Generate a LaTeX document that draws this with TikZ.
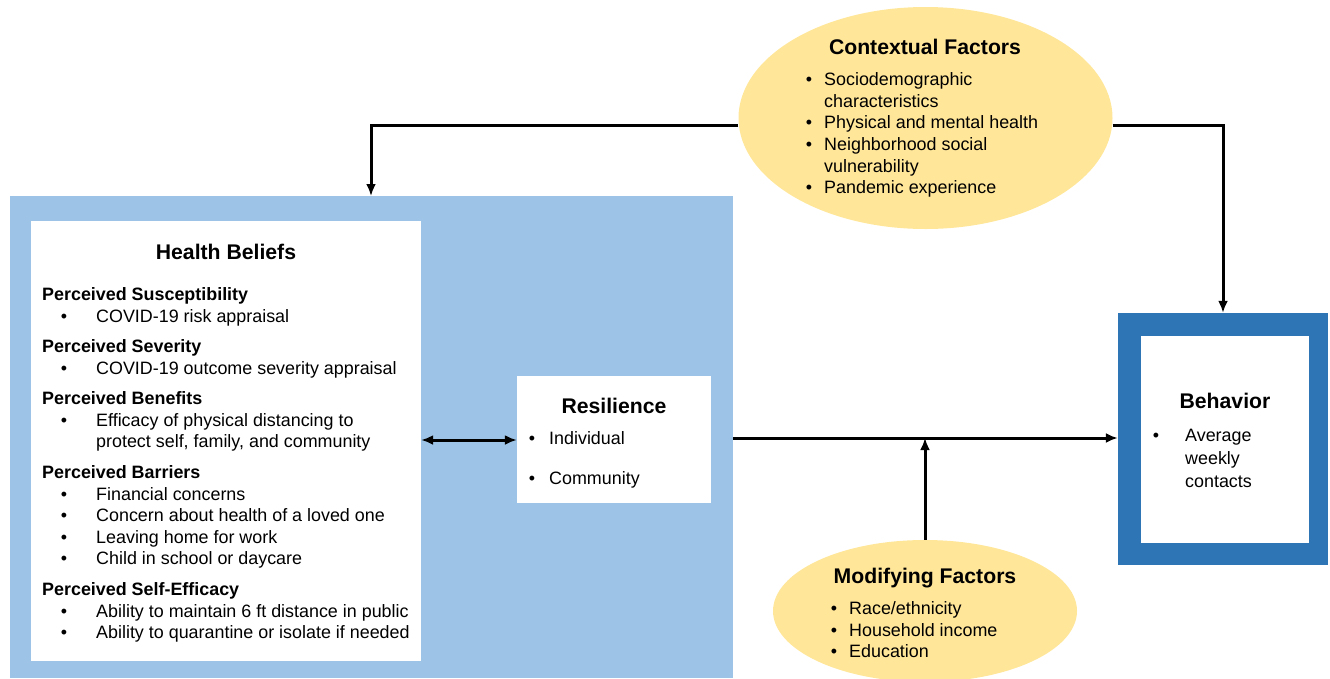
\documentclass[tikz,border=0pt]{standalone}
\usepackage{fontspec}
\setmainfont{Liberation Sans}
\usetikzlibrary{arrows.meta,shapes.geometric}
\definecolor{lightblue}{HTML}{9DC3E6}
\definecolor{darkblue}{HTML}{2E75B6}
\definecolor{ellyellow}{HTML}{FFE699}
\tikzset{
  txt/.style={anchor=base west,inner sep=0pt,font=\fontsize{17.9}{21}\selectfont},
  head/.style={anchor=base west,inner sep=0pt,font=\fontsize{17.9}{21}\selectfont\bfseries},
  ttl/.style={anchor=base,inner sep=0pt,font=\fontsize{21.2}{25}\selectfont\bfseries},
  bul/.style={anchor=base,inner sep=0pt,font=\fontsize{17.9}{21}\selectfont},
  tip/.tip={Latex[length=12pt,width=10pt]},
  conn/.style={line width=3pt,-tip},
  wbox/.style={fill=white,draw=none,inner sep=0pt},
  ell/.style={ellipse,fill=ellyellow,draw=none,inner sep=0pt}
}
\begin{document}
\begin{tikzpicture}[x=1pt,y=-1pt]
\useasboundingbox (0,0) rectangle (1330,678);
% big blue area
\fill[lightblue] (10,196) rectangle (733,678);
\node[wbox,minimum width=390pt,minimum height=440pt] (hb) at (226,441) {};
\node[wbox,minimum width=194pt,minimum height=127pt] (res) at (614,439.5) {};
% behavior
\node[fill=darkblue,minimum width=210pt,minimum height=252pt,inner sep=0pt] (beh) at (1223,439) {};
\node[wbox,minimum width=168pt,minimum height=207pt] (behin) at (1225,439.5) {};
% ellipses
\node[ell,minimum width=374pt,minimum height=222pt] (ctx) at (925.5,118) {};
\node[ell,minimum width=304pt,minimum height=142pt] (mod) at (925,611) {};

% Health beliefs text
\node[ttl] (hbt) at (226,259) {Health Beliefs};
\node[head] (h1) at (42,300) {Perceived Susceptibility};
\node[bul] (b1) at (64,322) {•}; \node[txt] (t1) at (96,322) {COVID-19 risk appraisal};
\node[head] (h2) at (42,352) {Perceived Severity};
\node[bul] (b2) at (64,374) {•}; \node[txt] (t2) at (96,374) {COVID-19 outcome severity appraisal};
\node[head] (h3) at (42,404) {Perceived Benefits};
\node[bul] (b3) at (64,426) {•}; \node[txt] (t3) at (96,426) {Efficacy of physical distancing to};
\node[txt] (t3b) at (96,447.5) {protect self, family, and community};
\node[head] (h4) at (42,478) {Perceived Barriers};
\node[bul] (b4) at (64,500) {•}; \node[txt] (t4) at (96,500) {Financial concerns};
\node[bul] (b5) at (64,521.5) {•}; \node[txt] (t5) at (96,521.5) {Concern about health of a loved one};
\node[bul] (b6) at (64,543) {•}; \node[txt] (t6) at (96,543) {Leaving home for work};
\node[bul] (b7) at (64,564.5) {•}; \node[txt] (t7) at (96,564.5) {Child in school or daycare};
\node[head] (h5) at (42,595) {Perceived Self-Efficacy};
\node[bul] (b8) at (64,617) {•}; \node[txt] (t8) at (96,617) {Ability to maintain 6 ft distance in public};
\node[bul] (b9) at (64,638.5) {•}; \node[txt] (t9) at (96,638.5) {Ability to quarantine or isolate if needed};

% Resilience text
\node[ttl] (rt) at (614,413) {Resilience};
\node[bul] (rb1) at (532,444) {•}; \node[txt] (rt1) at (549,444) {Individual};
\node[bul] (rb2) at (532,484) {•}; \node[txt] (rt2) at (549,484) {Community};

% Behavior text
\node[ttl] (bt) at (1225,408) {Behavior};
\node[bul] (bb1) at (1156,441) {•};
\node[txt] (bt1) at (1185,441) {Average};
\node[txt] (bt2) at (1185,464) {weekly};
\node[txt] (bt3) at (1185,487) {contacts};

% Contextual text
\node[ttl] (ct) at (925,54) {Contextual Factors};
\node[bul] (cb1) at (809,85) {•}; \node[txt] (ct1) at (824,85) {Sociodemographic};
\node[txt] (ct1b) at (824,107) {characteristics};
\node[bul] (cb2) at (809,128.5) {•}; \node[txt] (ct2) at (824,128.5) {Physical and mental health};
\node[bul] (cb3) at (809,150) {•}; \node[txt] (ct3) at (824,150) {Neighborhood social};
\node[txt] (ct3b) at (824,172) {vulnerability};
\node[bul] (cb4) at (809,193.5) {•}; \node[txt] (ct4) at (824,193.5) {Pandemic experience};

% Modifying text
\node[ttl] (mt) at (925,583) {Modifying Factors};
\node[bul] (mb1) at (834,614) {•}; \node[txt] (mt1) at (849,614) {Race/ethnicity};
\node[bul] (mb2) at (834,636) {•}; \node[txt] (mt2) at (849,636) {Household income};
\node[bul] (mb3) at (834,657.5) {•}; \node[txt] (mt3) at (849,657.5) {Education};

% connectors
\coordinate (blueR) at (733,438);
\coordinate (blueT) at (371,196);
\coordinate (junc) at (925,438);
\draw[conn] (ctx.west |- 0,125) -| (blueT);
\draw[conn] (ctx.east |- 0,125) -| (beh.north -| 1223,0);
\draw[line width=3pt,tip-tip] (hb.east |- 0,440) -- (res.west |- 0,440);
\draw[conn] (blueR) -- (beh.west |- blueR);
\draw[conn] (mod.north) -- (junc);
\end{tikzpicture}
\end{document}
